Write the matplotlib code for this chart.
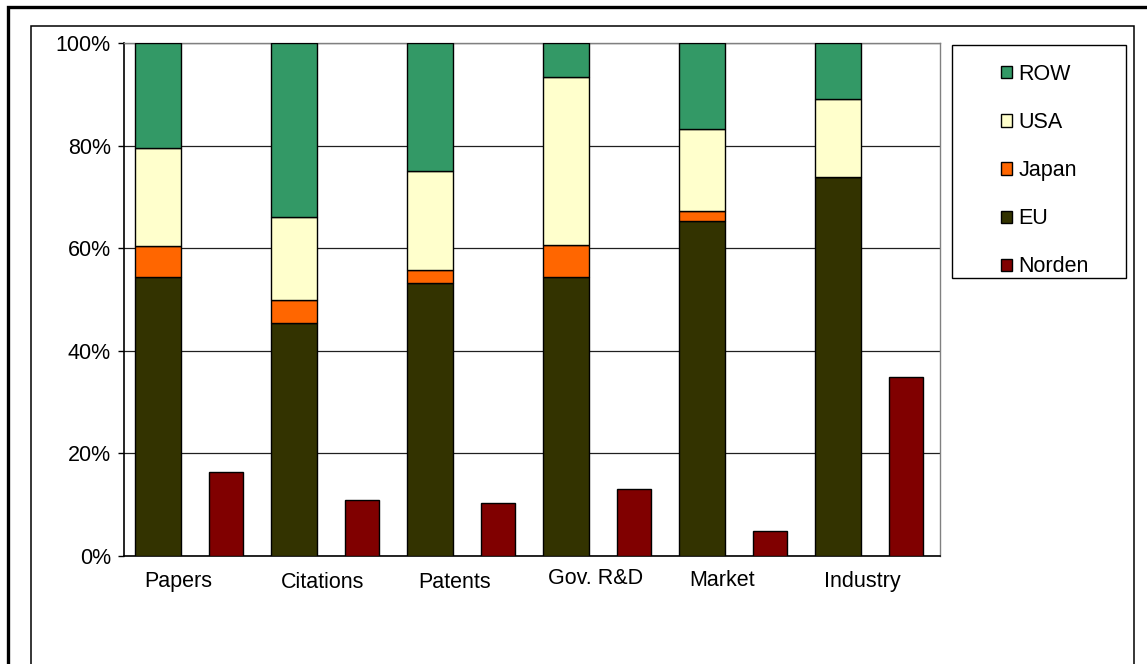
import matplotlib
matplotlib.use("Agg")
import matplotlib.pyplot as plt
from matplotlib.patches import Rectangle, Patch
import numpy as np

plt.rcParams['font.family'] = ['Liberation Sans', 'DejaVu Sans']

# ---- data ----
categories = ["Papers", "Citations", "Patents", "Gov. R&D", "Market", "Industry"]
eu     = [54.5, 45.5, 53.3, 54.5, 65.4, 74.0]
japan  = [6.0, 4.4, 2.5, 6.2, 1.9, 0.0]
usa    = [19.0, 16.2, 19.3, 32.8, 15.9, 15.1]
row    = [20.5, 33.9, 24.9, 6.5, 16.8, 10.9]
norden = [16.4, 10.9, 10.3, 13.1, 4.9, 34.9]
yticklabels = ["0%", "20%", "40%", "60%", "80%", "100%"]

# ---- layout / style ----
W, H = 1147, 664
colors = {"ROW": "#339966", "USA": "#FFFFCC", "Japan": "#FF6600",
          "EU": "#333300", "Norden": "#800000"}
label_dx = [0.40, 1.46, 2.43, 3.47, 4.40, 5.43]
label_dy = [-26, -26, -27, -22, -24, -25]   # pixels below the axis
FS = 15.5

fig = plt.figure(figsize=(W / 100, H / 100), dpi=100)
ax = fig.add_axes([124 / W, 1 - 556 / H, (940 - 124) / W, (556 - 43.3) / H])

x = np.arange(len(categories))
sx = x + 0.25
nx = x + 0.75
sw, nw = 0.34, 0.25
eu_a, jp_a, us_a, row_a = map(np.array, (eu, japan, usa, row))
kw = dict(edgecolor="black", linewidth=1.0, zorder=3)
ax.bar(sx, eu_a, sw, color=colors["EU"], **kw)
ax.bar(sx, jp_a, sw, bottom=eu_a, color=colors["Japan"], **kw)
ax.bar(sx, us_a, sw, bottom=eu_a + jp_a, color=colors["USA"], **kw)
ax.bar(sx, row_a, sw, bottom=eu_a + jp_a + us_a, color=colors["ROW"], **kw)
ax.bar(nx, norden, nw, color=colors["Norden"], **kw)

ax.set_xlim(0, len(categories))
ax.set_ylim(0, 100)
ax.set_yticks(np.arange(0, 101, 20))
ax.set_yticklabels(yticklabels, fontsize=FS)
ax.set_xticks([])
ax.tick_params(axis='y', direction='out', length=4.5, width=1, pad=5, colors='black')
ax.yaxis.grid(True, color='#202020', linewidth=0.9, zorder=0)
ax.set_axisbelow(True)
for s in ("left", "bottom"):
    ax.spines[s].set_color("black")
    ax.spines[s].set_linewidth(1.2)
for s in ("right", "top"):
    ax.spines[s].set_color("#808080")
    ax.spines[s].set_linewidth(1.0)

for lx, dy, name in zip(label_dx, label_dy, categories):
    ax.annotate(name, xy=(lx, 0), xycoords=('data', 'axes fraction'),
                xytext=(0, dy), textcoords='offset pixels',
                ha='center', va='center', fontsize=FS)

# frames
fig.patches.append(Rectangle((8 / W, -0.05), 1.2, 1 - 7 / H + 0.05, transform=fig.transFigure,
                             fill=False, edgecolor='black', linewidth=2.4))
fig.patches.append(Rectangle((30.7 / W, -0.05), (1134.3 - 30.7) / W, 1 - 25.7 / H + 0.05,
                             transform=fig.transFigure, fill=False, edgecolor='black', linewidth=1.1))
# legend box
fig.patches.append(Rectangle((951.7 / W, 1 - 278.3 / H), (1126 - 951.7) / W, (278.3 - 45) / H,
                             transform=fig.transFigure, fill=False, edgecolor='black', linewidth=1.0))

names = ["ROW", "USA", "Japan", "EU", "Norden"]
handles = [Patch(facecolor=colors[n], edgecolor='black', linewidth=1.0) for n in names]
fig.legend(handles, names, loc='upper left', bbox_to_anchor=(1001 / W, 1 - 64 / H),
           frameon=False, fontsize=FS, handlelength=0.5, handleheight=0.5,
           handletextpad=0.3, labelspacing=1.26, borderpad=0, borderaxespad=0)

fig.savefig("out.png", dpi=100)
